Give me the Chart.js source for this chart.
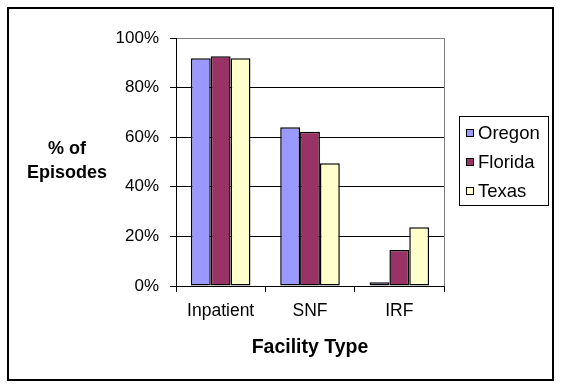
<!DOCTYPE html>
<html>
<head>
<meta charset="utf-8">
<script src="https://cdn.jsdelivr.net/npm/chart.js@4/dist/chart.umd.min.js"></script>
<style>
  body { margin: 0; background: #fff; }
  #wrap { width: 563px; height: 388px; position: relative; }
</style>
</head>
<body>
<div id="wrap"><canvas id="facChart" width="563" height="388"></canvas></div>
<script>
var categories = ["Inpatient", "SNF", "IRF"];
var states = ["Oregon", "Florida", "Texas"];
var oregon = [91.8, 64.0, 1.5];
var florida = [92.6, 62.2, 14.5];
var texas = [91.8, 49.5, 23.7];
var stateColors = ["#9999FF", "#993366", "#FFFFCC"];
var yTicks = [0, 20, 40, 60, 80, 100];

var FONT = "'Liberation Sans', Arial, sans-serif";

// white bg, outer frame, right plot border, axis titles, boxed legend
var framePlugin = {
    id: "frame",
    beforeDraw(chart) {
        var c = chart.ctx;
        c.save();
        c.fillStyle = "#fff";
        c.fillRect(0, 0, chart.width, chart.height);
        c.restore();
    },
    afterDraw(chart) {
        var c = chart.ctx;
        var a = chart.chartArea;
        c.save();
        c.strokeStyle = "#000";
        c.lineWidth = 2;
        c.strokeRect(8, 8, 545, 372);

        c.lineWidth = 1;
        c.strokeStyle = "#808080";
        c.beginPath();
        c.moveTo(Math.round(a.right) + 0.5, a.top);
        c.lineTo(Math.round(a.right) + 0.5, a.bottom);
        c.stroke();

        c.fillStyle = "#000";
        c.font = "bold 18px " + FONT;
        c.textAlign = "center";
        c.textBaseline = "middle";
        c.fillText("% of", 67, 149);
        c.fillText("Episodes", 67, 173);
        c.font = "bold 19.5px " + FONT;
        c.fillText("Facility Type", (a.left + a.right) / 2, 348);

        // legend
        c.strokeStyle = "#000";
        c.lineWidth = 1;
        c.strokeRect(459.5, 116.5, 89, 89);
        c.font = "18.5px " + FONT;
        c.textAlign = "left";
        var rows = [133, 162, 191];
        chart.data.datasets.forEach(function (ds, i) {
            c.fillStyle = ds.backgroundColor;
            c.fillRect(466, rows[i] - 4, 8, 8);
            c.strokeRect(466.5, rows[i] - 3.5, 7, 7);
            c.fillStyle = "#000";
            c.fillText(ds.label, 478, rows[i] + 1);
        });
        c.restore();
    }
};

var seriesData = [oregon, florida, texas];
var datasets = states.map(function (s, i) {
    return {
        label: s,
        data: seriesData[i],
        backgroundColor: stateColors[i],
        borderColor: "#000",
        borderWidth: 1.5,
        borderSkipped: false,
        categoryPercentage: 0.667,
        barPercentage: 1.0
    };
});

new Chart(document.getElementById("facChart"), {
    type: "bar",
    data: { labels: categories, datasets: datasets },
    plugins: [framePlugin],
    options: {
        responsive: false,
        animation: false,
        devicePixelRatio: 1,
        layout: { padding: { left: 0, top: 38, right: 119, bottom: 0 } },
        plugins: { legend: { display: false }, tooltip: { enabled: false } },
        scales: {
            x: {
                afterFit: function (s) { s.height = 102; },
                grid: { offset: true, drawOnChartArea: false, color: "#000", tickColor: "#000", tickLength: 6 },
                border: { color: "#000", width: 1 },
                ticks: { color: "#000", font: { family: FONT, size: 17.5 }, padding: 9 }
            },
            y: {
                min: 0,
                max: 100,
                afterFit: function (s) { s.width = 176; },
                afterBuildTicks: function (s) { s.ticks = yTicks.map(function (v) { return { value: v }; }); },
                grid: {
                    color: function (ctx) { return ctx.tick && ctx.tick.value === 100 ? "#808080" : "#000"; },
                    tickColor: "#000",
                    tickLength: 6
                },
                border: { color: "#000", width: 1 },
                ticks: {
                    color: "#000",
                    font: { family: FONT, size: 17 },
                    padding: 11,
                    callback: function (v) { return v + "%"; }
                }
            }
        }
    }
});
</script>
</body>
</html>
